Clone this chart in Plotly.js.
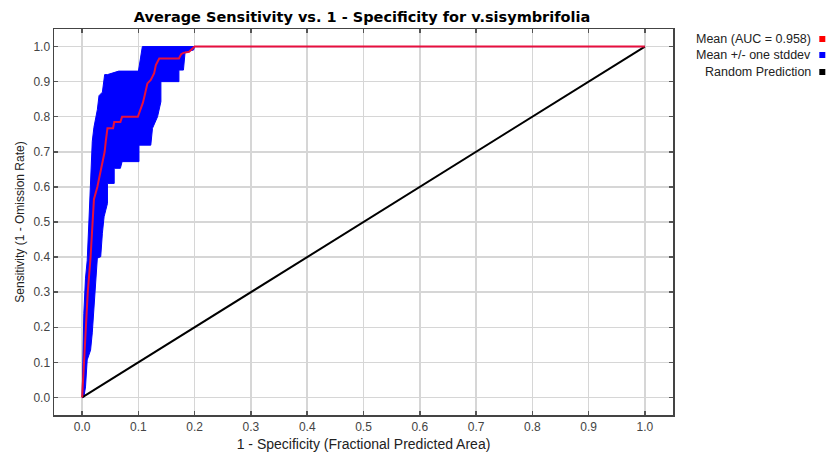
<!DOCTYPE html>
<html>
<head>
<meta charset="utf-8">
<script src="https://cdn.plot.ly/plotly-3.0.1.min.js"></script>
<style>
html,body{margin:0;padding:0;background:#fff;}
#chart{width:831px;height:452px;}
</style>
</head>
<body>
<div id="chart"></div>
<script>
// Mean ROC curve (1 - specificity, sensitivity)
var meanFpr  = [0, 0.001, 0.003, 0.006, 0.0075, 0.010, 0.015, 0.018, 0.021, 0.027, 0.036, 0.040, 0.042, 0.045, 0.055, 0.057, 0.068, 0.071, 0.099, 0.104, 0.108, 0.111, 0.116, 0.122, 0.128, 0.131, 0.137, 0.172, 0.176, 0.180, 0.190, 0.200, 1.0];
var meanSens = [0, 0.03, 0.10, 0.18, 0.23, 0.30, 0.40, 0.48, 0.565, 0.60, 0.677, 0.70, 0.73, 0.767, 0.767, 0.785, 0.785, 0.80, 0.80, 0.82, 0.84, 0.86, 0.895, 0.905, 0.924, 0.947, 0.966, 0.966, 0.978, 0.982, 0.985, 1.0, 1.0];

// Mean + one stddev (upper / left edge of band)
var upperFpr  = [0, 0.001, 0.003, 0.006, 0.009, 0.012, 0.015, 0.018, 0.021, 0.027, 0.030, 0.036, 0.040, 0.045, 0.065, 0.100, 0.104, 0.107, 1.0];
var upperSens = [0, 0.10, 0.24, 0.34, 0.39, 0.50, 0.62, 0.73, 0.77, 0.82, 0.86, 0.87, 0.92, 0.92, 0.93, 0.93, 0.97, 1.0, 1.0];

// Mean - one stddev (lower / right edge of band)
var lowerFpr  = [0.003, 0.006, 0.009, 0.015, 0.018, 0.021, 0.024, 0.027, 0.033, 0.036, 0.039, 0.042, 0.045, 0.045, 0.057, 0.057, 0.068, 0.071, 0.101, 0.101, 0.122, 0.125, 0.134, 0.140, 0.140, 0.172, 0.172, 0.180, 0.183, 0.198, 0.200, 1.0];
var lowerSens = [0, 0.03, 0.107, 0.135, 0.184, 0.249, 0.316, 0.397, 0.401, 0.468, 0.515, 0.534, 0.553, 0.61, 0.61, 0.653, 0.653, 0.672, 0.672, 0.719, 0.719, 0.767, 0.80, 0.843, 0.90, 0.90, 0.933, 0.933, 0.985, 0.99, 1.0, 1.0];

// Random prediction line
var randFpr  = [0, 1];
var randSens = [0, 1];

var tickVals = [0, 0.1, 0.2, 0.3, 0.4, 0.5, 0.6, 0.7, 0.8, 0.9, 1.0];
var tickText = ["0.0", "0.1", "0.2", "0.3", "0.4", "0.5", "0.6", "0.7", "0.8", "0.9", "1.0"];

var legendLabels = ["Mean (AUC = 0.958)", "Mean +/- one stddev", "Random Prediction"];
var legendColors = ["#ff0000", "#0000ff", "#000000"];

var bandX = upperFpr.concat(lowerFpr.slice().reverse());
var bandY = upperSens.concat(lowerSens.slice().reverse());

var traces = [
  {x: bandX, y: bandY, type: 'scatter', mode: 'lines', fill: 'toself',
   fillcolor: '#0000ff', line: {color: '#0000ff', width: 1, shape: 'linear'}, hoverinfo: 'skip'},
  {x: randFpr, y: randSens, type: 'scatter', mode: 'lines',
   line: {color: '#000000', width: 2}},
  {x: meanFpr, y: meanSens, type: 'scatter', mode: 'lines',
   line: {color: '#e8103c', width: 2}}
];

var font = "Liberation Sans, Arial, sans-serif";
var axisCommon = {
  range: [-0.05, 1.05], tickvals: tickVals, ticktext: tickText,
  showgrid: true, gridcolor: '#d6d6d6', gridwidth: 1.5,
  zeroline: false, showline: true, linecolor: '#444', linewidth: 1.5,
  mirror: 'ticks', ticks: 'inside', ticklen: 4, tickcolor: '#555', tickwidth: 1.5,
  tickfont: {family: font, size: 12, color: '#444'}, fixedrange: true
};

var annotations = [];
var shapes = [];
var legY = [39, 55, 72];
for (var i = 0; i < legendLabels.length; i++) {
  annotations.push({
    xref: 'paper', yref: 'paper',
    x: (813 - 54) / 618.75, y: 1 - (legY[i] - 29) / 386,
    xanchor: 'right', yanchor: 'middle', showarrow: false,
    text: legendLabels[i], font: {family: font, size: 12.5, color: '#222'}
  });
  shapes.push({
    type: 'rect', xref: 'paper', yref: 'paper',
    x0: (819 - 54) / 618.75, x1: (825 - 54) / 618.75,
    y0: 1 - (legY[i] - 29 + 3) / 386, y1: 1 - (legY[i] - 29 - 3) / 386,
    fillcolor: legendColors[i], line: {width: 0}
  });
}

var layout = {
  width: 831, height: 452,
  margin: {l: 54, r: 158.25, t: 29, b: 37.05, pad: 0},
  paper_bgcolor: '#ffffff', plot_bgcolor: '#ffffff',
  showlegend: false,
  title: {text: '<b>Average Sensitivity vs. 1 - Specificity for v.sisymbrifolia</b>',
          font: {family: 'DejaVu Sans, sans-serif', size: 14.5, color: '#000'},
          x: 362 / 831, xanchor: 'center', y: 1 - 17 / 452, yanchor: 'middle'},
  xaxis: Object.assign({}, axisCommon, {
    title: {text: '1 - Specificity (Fractional Predicted Area)', font: {family: font, size: 14, color: '#222'}, standoff: 9}
  }),
  yaxis: Object.assign({}, axisCommon, {
    title: {text: 'Sensitivity (1 - Omission Rate)', font: {family: font, size: 12, color: '#222'}, standoff: 6}
  }),
  annotations: annotations,
  shapes: shapes
};

Plotly.newPlot('chart', traces, layout, {displayModeBar: false, staticPlot: true});
</script>
</body>
</html>
